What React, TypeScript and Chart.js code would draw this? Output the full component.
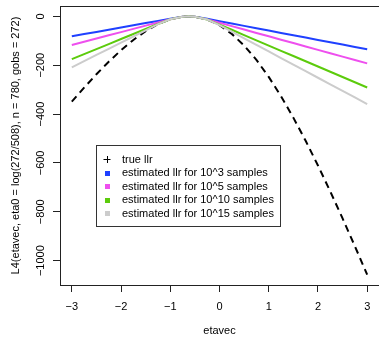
import React, { useEffect, useRef } from "react";
import { Chart, registerables } from "chart.js";

Chart.register(...registerables);

// ---- data ----
const etavec = [-3, -2.75, -2.5, -2.25, -2, -1.75, -1.5, -1.25, -1, -0.75, -0.625, -0.5, -0.25, 0, 0.25, 0.5, 0.75, 1, 1.25, 1.5, 1.75, 2, 2.25, 2.5, 2.75, 3];
const trueLlr = [-349.5, -292.0, -237.2, -185.8, -138.6, -96.6, -60.7, -32.1, -12.0, -1.4, 0, -1.4, -12.9, -36.3, -71.9, -119.4, -178.4, -248.0, -327.1, -414.7, -509.6, -610.6, -716.8, -827.2, -941.0, -1057.5];
const est1e3 = [-81.6, -72.6, -63.7, -54.7, -45.7, -36.7, -27.7, -18.7, -9.7, -1.4, 0, -1.4, -10.3, -19.9, -29.5, -39.0, -48.6, -58.2, -67.8, -77.3, -86.9, -96.5, -106.1, -115.6, -125.2, -134.8];
const est1e5 = [-117.5, -104.2, -91.0, -77.8, -64.6, -51.3, -38.1, -24.9, -11.7, -1.4, 0, -1.4, -12.5, -26.3, -40.2, -54.1, -67.9, -81.8, -95.6, -109.5, -123.3, -137.2, -151.0, -164.9, -178.7, -192.6];
const est1e10 = [-175.2, -154.6, -134.0, -113.5, -92.9, -72.4, -51.8, -31.2, -12.0, -1.4, 0, -1.4, -12.9, -33.7, -55.1, -76.6, -98.1, -119.6, -141.1, -162.5, -184.0, -205.5, -227.0, -248.4, -269.9, -291.4];
const est1e15 = [-208.7, -183.4, -158.2, -133.0, -107.8, -82.5, -57.3, -32.1, -12.0, -1.4, 0, -1.4, -12.9, -36.0, -62.9, -89.9, -116.8, -143.7, -170.6, -197.6, -224.5, -251.4, -278.3, -305.3, -332.2, -359.1];

const xTicks = [-3, -2, -1, 0, 1, 2, 3];
const yTicks = [-1000, -800, -600, -400, -200, 0];
const xLimits = [-3.24, 3.24];
const yLimits = [-1099.8, 42.3];

const seriesLabels = [
  "true llr",
  "estimated llr for 10^3 samples",
  "estimated llr for 10^5 samples",
  "estimated llr for 10^10 samples",
  "estimated llr for 10^15 samples",
];
const xTitle = "etavec";
const yTitle = "L4(etavec, eta0 = log(272/508), n = 780, gobs = 272)";

const FONT = '"Liberation Sans", Arial, Helvetica, sans-serif';
const COLORS = ["#000000", "#1f40ff", "#ee4fee", "#5ccb0c", "#cccccc"];

const fmt = (v: number) => (v < 0 ? "\u2212" + String(-v) : String(v));

const toPts = (ys: number[]) => etavec.map((x, i) => ({ x, y: ys[i] }));

const boxPlugin = {
  id: "rBox",
  afterDraw(chart: any) {
    const { ctx, chartArea } = chart;
    ctx.save();
    ctx.strokeStyle = "#222";
    ctx.lineWidth = 1;
    ctx.strokeRect(
      Math.round(chartArea.left) + 0.5,
      Math.round(chartArea.top) + 0.5,
      400,
      Math.round(chartArea.bottom) - Math.round(chartArea.top)
    );
    ctx.restore();
  },
};

const legendPlugin = {
  id: "rLegend",
  afterDraw(chart: any) {
    const ctx = chart.ctx;
    const left = 96.5;
    const top = 145.5;
    const w = 184;
    const h = 81;
    ctx.save();
    ctx.fillStyle = "#ffffff";
    ctx.fillRect(left, top, w, h);
    ctx.strokeStyle = "#333";
    ctx.lineWidth = 1;
    ctx.strokeRect(left, top, w, h);
    const ds = chart.data.datasets;
    ctx.font = `11px ${FONT}`;
    ctx.textBaseline = "middle";
    ctx.textAlign = "left";
    for (let i = 0; i < ds.length; i++) {
      const cy = 159 + i * 13.5;
      const sx = 107;
      if (i === 0) {
        ctx.strokeStyle = "#000";
        ctx.lineWidth = 1;
        ctx.beginPath();
        ctx.moveTo(sx - 3.5, Math.round(cy) + 0.5);
        ctx.lineTo(sx + 3.5, Math.round(cy) + 0.5);
        ctx.moveTo(sx + 0.5, Math.round(cy) - 3);
        ctx.lineTo(sx + 0.5, Math.round(cy) + 4);
        ctx.stroke();
      } else {
        ctx.fillStyle = ds[i].borderColor;
        ctx.fillRect(sx - 2, Math.round(cy) - 2, 5, 5);
      }
      ctx.fillStyle = "#000";
      ctx.fillText(ds[i].label, 122, cy + 0.5);
    }
    ctx.restore();
  },
};

export default function App() {
  const ref = useRef<HTMLCanvasElement>(null);

  useEffect(() => {
    document.body.style.margin = "0";
    const canvas = ref.current!;

    const mctx = document.createElement("canvas").getContext("2d")!;
    mctx.font = `normal 11px ${FONT}`;
    const widest = Math.max(...yTicks.map((v) => mctx.measureText(fmt(v)).width));
    const yPad = 60 - 7 - 40.5 - widest / 2;

    const series = [trueLlr, est1e3, est1e5, est1e10, est1e15];
    const datasets = series.map((ys, i) => ({
      label: seriesLabels[i],
      data: toPts(ys),
      borderColor: COLORS[i],
      backgroundColor: COLORS[i],
      borderWidth: 2,
      borderDash: i === 0 ? [7, 5] : [],
      pointRadius: 0,
      tension: 0,
      fill: false,
      order: 5 - i,
    }));

    const chart = new Chart(canvas, {
      type: "line",
      data: { datasets },
      plugins: [boxPlugin, legendPlugin],
      options: {
        animation: false,
        responsive: false,
        events: [],
        layout: { padding: { top: 6, right: 0, left: 0, bottom: 0 } },
        plugins: { legend: { display: false }, tooltip: { enabled: false } },
        scales: {
          x: {
            type: "linear",
            position: "bottom",
            min: xLimits[0],
            max: xLimits[1],
            afterBuildTicks: (s: any) => {
              s.ticks = xTicks.map((v) => ({ value: v }));
            },
            afterFit: (s: any) => {
              s.height = 52;
            },
            grid: {
              drawOnChartArea: false,
              drawTicks: true,
              tickLength: 7,
              color: "#222",
              lineWidth: 1,
            },
            border: { display: false },
            ticks: {
              color: "#000",
              font: { family: FONT, size: 11 },
              padding: 8,
              maxRotation: 0,
              autoSkip: false,
              callback: (v: any) => fmt(Number(v)),
            },
            title: {
              display: true,
              text: xTitle,
              color: "#000",
              font: { family: FONT, size: 11, lineHeight: 1 },
              padding: { top: 0, bottom: 0.5 },
            },
          },
          y: {
            type: "linear",
            position: "left",
            min: yLimits[0],
            max: yLimits[1],
            afterBuildTicks: (s: any) => {
              s.ticks = yTicks.map((v) => ({ value: v }));
            },
            afterFit: (s: any) => {
              s.width = 60;
            },
            grid: {
              drawOnChartArea: false,
              drawTicks: true,
              tickLength: 7,
              color: "#222",
              lineWidth: 1,
            },
            border: { display: false },
            ticks: {
              color: "#000",
              font: { family: FONT, size: 11 },
              padding: yPad,
              minRotation: 90,
              maxRotation: 90,
              crossAlign: "center",
              autoSkip: false,
              callback: (v: any) => fmt(Number(v)),
            },
            title: {
              display: true,
              text: yTitle,
              color: "#000",
              font: { family: FONT, size: 11, lineHeight: 1 },
              padding: { top: 10.5, bottom: 0 },
            },
          },
        },
      } as any,
    });

    return () => chart.destroy();
  }, []);

  return (
    <canvas
      ref={ref}
      width={379}
      height={337}
      style={{ display: "block", width: 379, height: 337 }}
    />
  );
}
